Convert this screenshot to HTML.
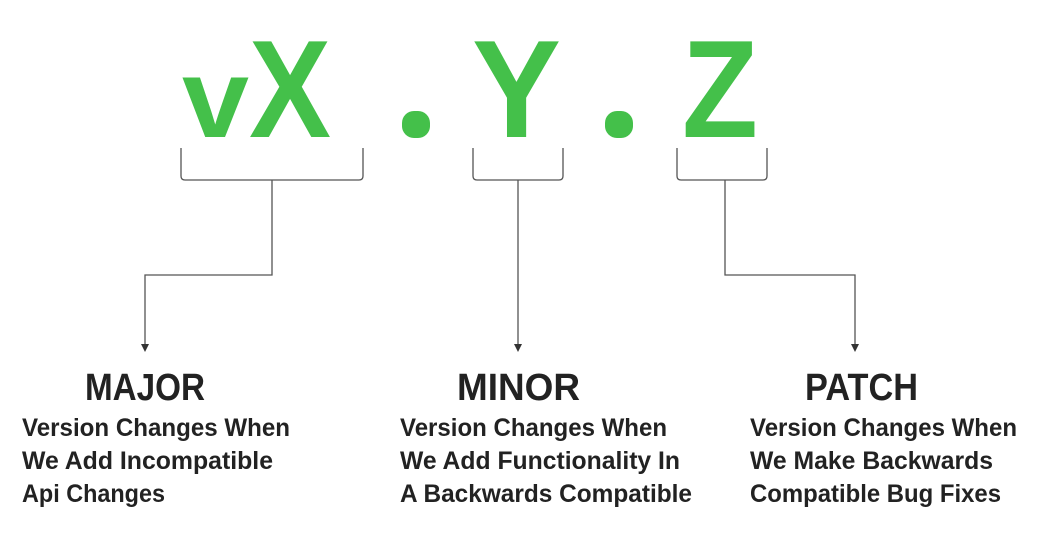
<!DOCTYPE html>
<html><head><style>html,body{margin:0;padding:0;background:#fff;}svg{display:block}</style></head>
<body>
<svg width="1056" height="546" viewBox="0 0 1056 546" xmlns="http://www.w3.org/2000/svg">
<g fill="#44c04a" font-family="Liberation Sans, sans-serif" font-weight="bold">
<text x="182" y="137" font-size="112" textLength="67" lengthAdjust="spacingAndGlyphs">v</text>
<text x="249" y="137" font-size="139" textLength="82" lengthAdjust="spacingAndGlyphs">X</text>
<text x="472" y="137" font-size="139" textLength="89" lengthAdjust="spacingAndGlyphs">Y</text>
<text x="682" y="137" font-size="139" textLength="76" lengthAdjust="spacingAndGlyphs">Z</text>
<rect x="402" y="111" width="28" height="27" rx="12"/>
<rect x="605" y="111" width="28" height="27" rx="12"/>
</g>
<g fill="none" stroke="#555" stroke-width="1.3">
<path d="M181 148 V176 Q181 180 185 180 H359 Q363 180 363 176 V148"/>
<path d="M473 148 V176 Q473 180 477 180 H559 Q563 180 563 176 V148"/>
<path d="M677 148 V176 Q677 180 681 180 H763 Q767 180 767 176 V148"/>
<path d="M272 180 V275 H145 V345"/>
<path d="M518 180 V345"/>
<path d="M725 180 V275 H855 V345"/>
</g>
<g fill="#333">
<path d="M141 344 L149 344 L145 352 Z"/>
<path d="M514 344 L522 344 L518 352 Z"/>
<path d="M851 344 L859 344 L855 352 Z"/>
</g>
<g fill="#222" font-family="Liberation Sans, sans-serif" font-weight="bold">
<text x="85" y="400" font-size="38" textLength="120" lengthAdjust="spacingAndGlyphs">MAJOR</text>
<text x="457" y="400" font-size="38" textLength="123" lengthAdjust="spacingAndGlyphs">MINOR</text>
<text x="805" y="400" font-size="38" textLength="113" lengthAdjust="spacingAndGlyphs">PATCH</text>
<g font-size="25">
<text x="22" y="436" textLength="268" lengthAdjust="spacingAndGlyphs">Version Changes When</text>
<text x="22" y="469" textLength="251" lengthAdjust="spacingAndGlyphs">We Add Incompatible</text>
<text x="22" y="502" textLength="143" lengthAdjust="spacingAndGlyphs">Api Changes</text>
<text x="400" y="436" textLength="267" lengthAdjust="spacingAndGlyphs">Version Changes When</text>
<text x="400" y="469" textLength="280" lengthAdjust="spacingAndGlyphs">We Add Functionality In</text>
<text x="400" y="502" textLength="292" lengthAdjust="spacingAndGlyphs">A Backwards Compatible</text>
<text x="750" y="436" textLength="267" lengthAdjust="spacingAndGlyphs">Version Changes When</text>
<text x="750" y="469" textLength="243" lengthAdjust="spacingAndGlyphs">We Make Backwards</text>
<text x="750" y="502" textLength="251" lengthAdjust="spacingAndGlyphs">Compatible Bug Fixes</text>
</g>
</g>
</svg>
</body></html>
